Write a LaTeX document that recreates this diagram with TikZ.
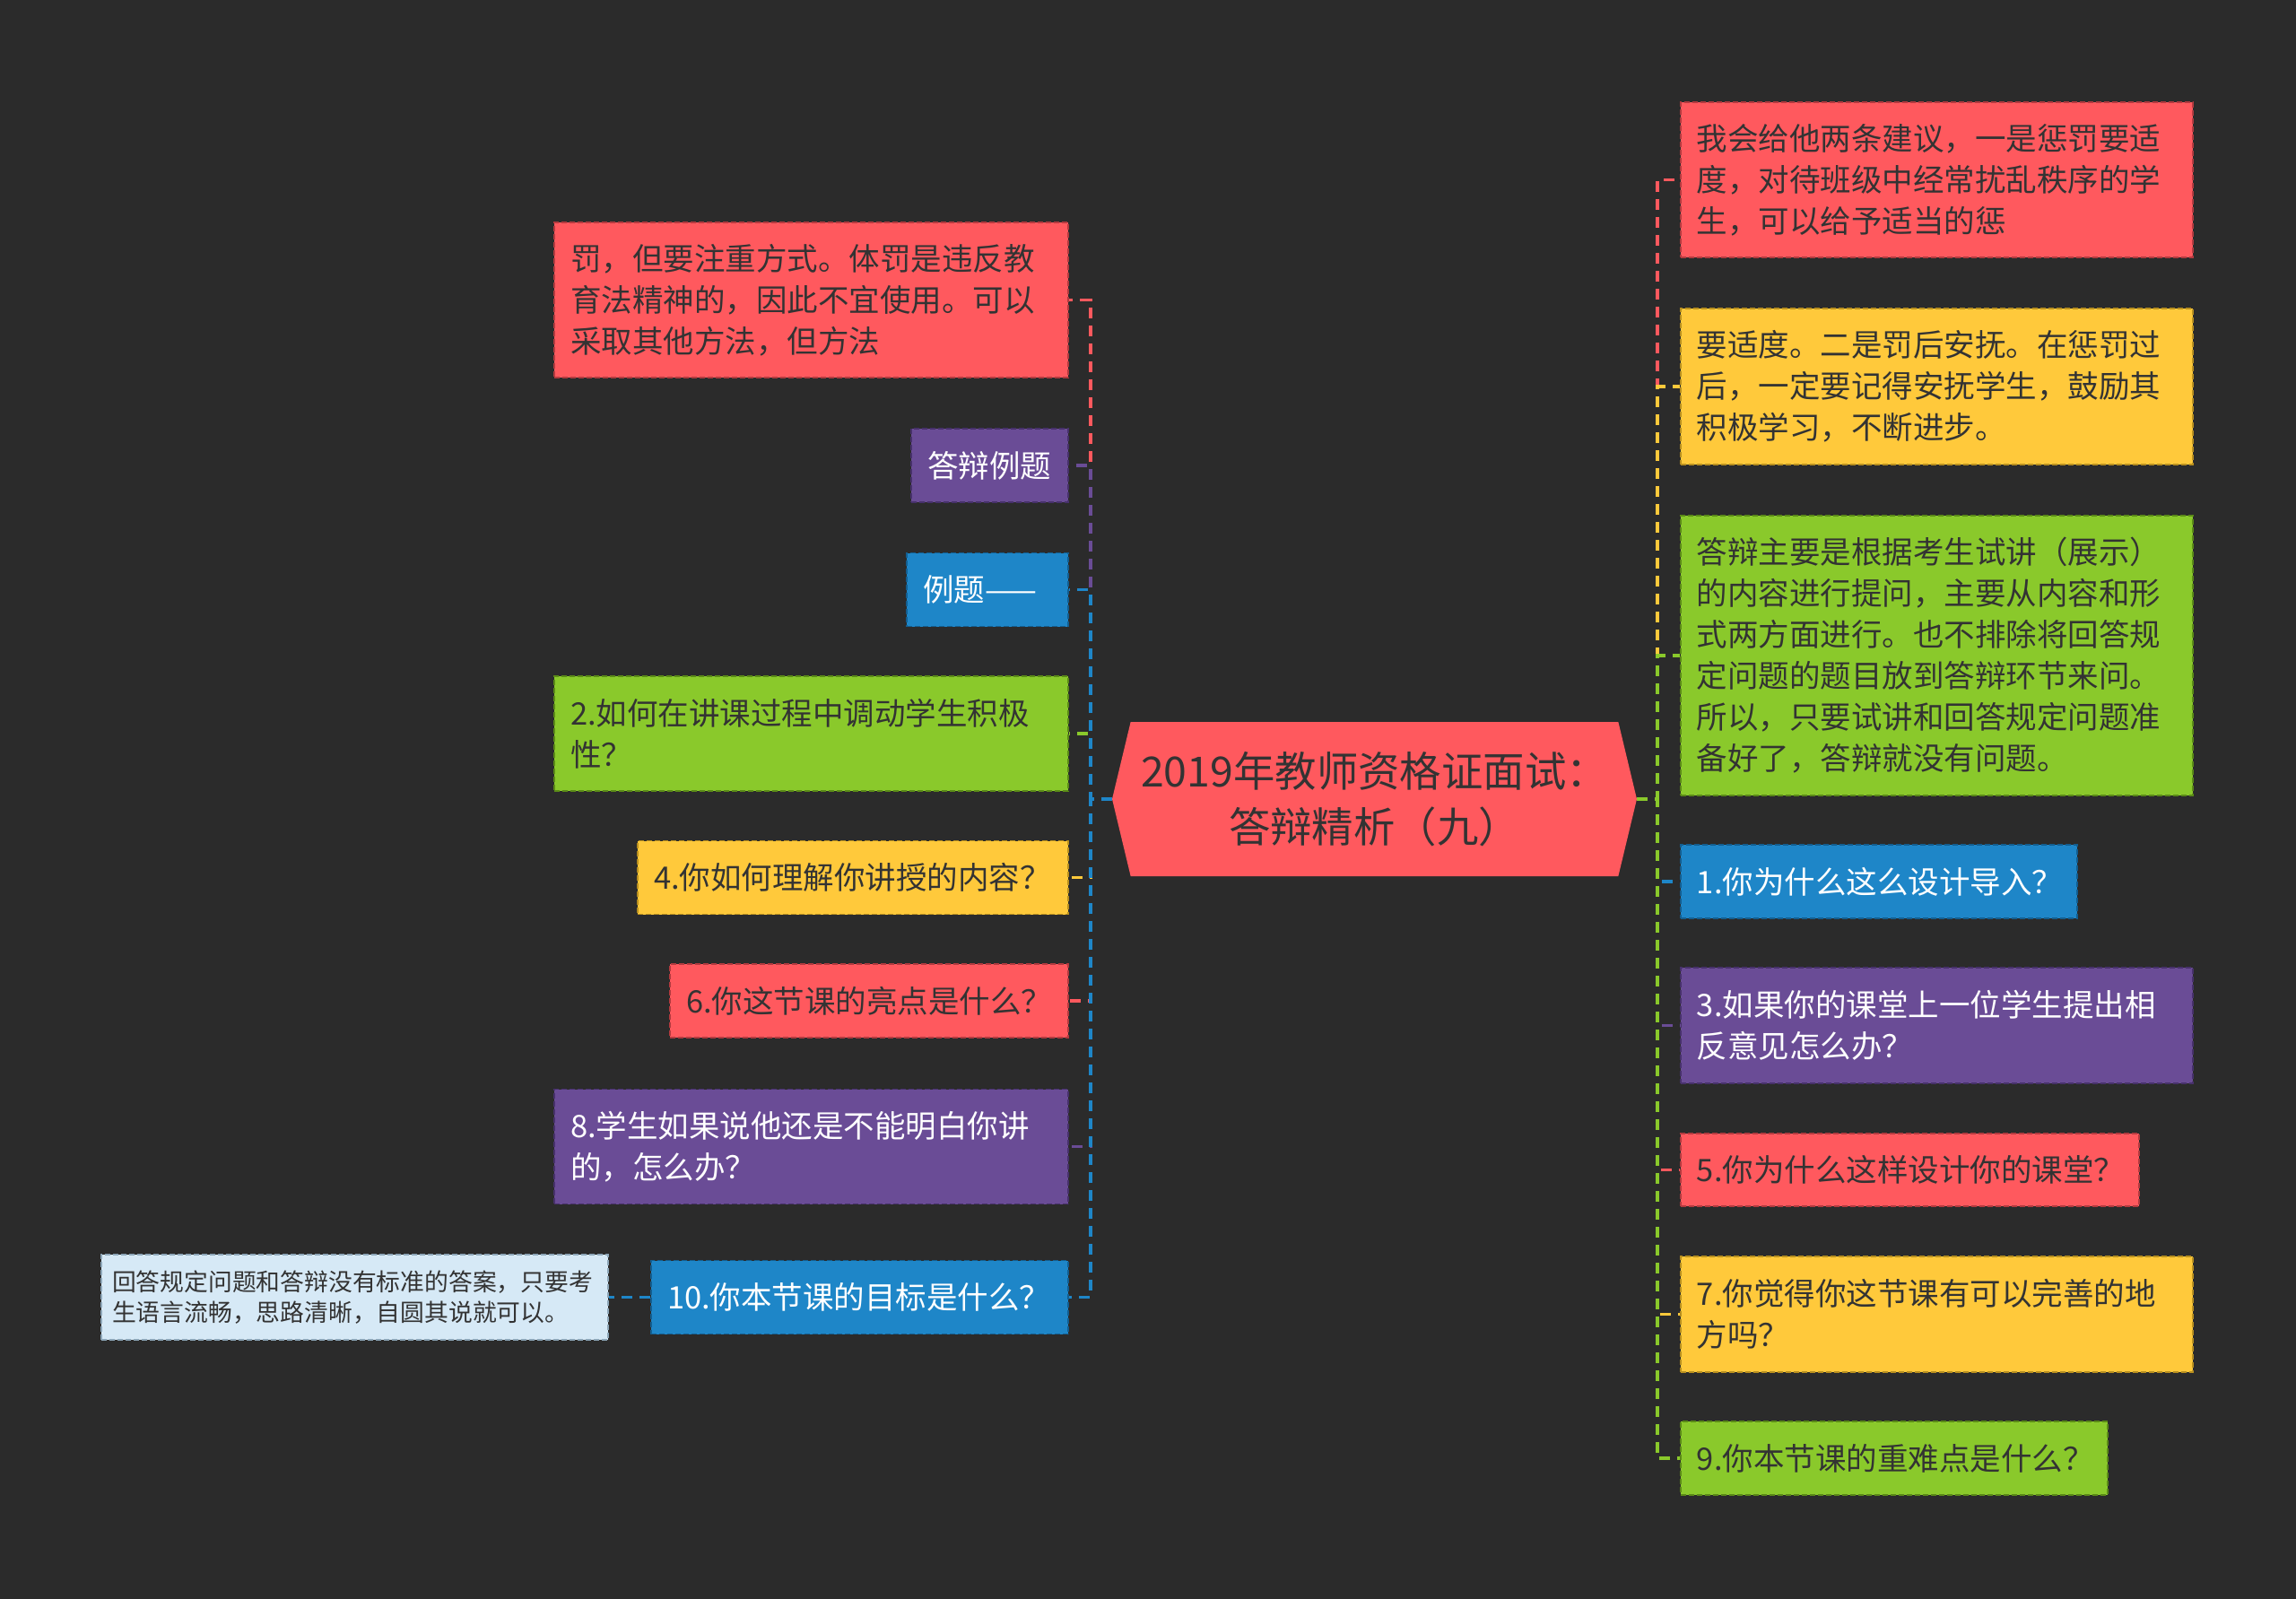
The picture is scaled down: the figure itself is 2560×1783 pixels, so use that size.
\documentclass[tikz,border=0pt]{standalone}
\usepackage{fontspec}
\setmainfont{Noto Sans CJK SC}
\usetikzlibrary{shapes.symbols}

\definecolor{bgc}{HTML}{2B2B2B}
\definecolor{mtext}{HTML}{333333}
\definecolor{mred}{HTML}{FF595E}
\definecolor{mredd}{HTML}{B33A3F}
\definecolor{myellow}{HTML}{FFC93B}
\definecolor{myellowd}{HTML}{B88F1F}
\definecolor{mgreen}{HTML}{8AC92B}
\definecolor{mgreend}{HTML}{5A8A17}
\definecolor{mblue}{HTML}{1E86C8}
\definecolor{mblued}{HTML}{135E90}
\definecolor{mpurple}{HTML}{6A4C96}
\definecolor{mpurpled}{HTML}{47316B}
\definecolor{mlight}{HTML}{D6E9F6}
\definecolor{mlightd}{HTML}{8DA6B8}

\begin{document}
\begin{tikzpicture}[x=0.5pt, y=-0.5pt,
  leaf/.style={rectangle, align=left, inner xsep=9pt, inner ysep=0pt,
    line width=0.9pt, dash pattern=on 3pt off 1.5pt,
    font=\fontsize{17.25}{23}\selectfont},
  redleaf/.style={leaf, fill=mred, draw=mredd, text=mtext},
  yellowleaf/.style={leaf, fill=myellow, draw=myellowd, text=mtext},
  greenleaf/.style={leaf, fill=mgreen, draw=mgreend, text=mtext},
  blueleaf/.style={leaf, fill=mblue, draw=mblued, text=white},
  purpleleaf/.style={leaf, fill=mpurple, draw=mpurpled, text=white},
  link/.style={line width=1.8pt, dash pattern=on 6pt off 4pt},
]

% Background
\fill[bgc] (0,0) rectangle (2560,1783);
\useasboundingbox (0,0) rectangle (2560,1783);

% Root
\node[signal, signal to=west and east, signal pointer angle=153,
  fill=mred, text=mtext, minimum width=292.5pt, minimum height=86pt,
  inner sep=0pt, align=center, font=\fontsize{23.2}{31}\selectfont]
  (root) at (1532.5,891) {2019年教师资格证面试：\\答辩精析（九）};

% Hubs
\coordinate (lhub) at (1216,891);
\coordinate (rhub) at (1848,891);

% Left leaves
\node[redleaf, anchor=east, text width=268.5pt, minimum height=86.5pt] (l1) at (1192,334.5)
  {罚，但要注重方式。体罚是违反教\\育法精神的，因此不宜使用。可以\\采取其他方法，但方法};
\node[purpleleaf, anchor=east, text width=69.5pt, minimum height=41pt] (l2) at (1192,519) {答辩例题};
\node[blueleaf, anchor=east, text width=72pt, minimum height=41pt] (l3) at (1192,657.5) {例题——};
\node[greenleaf, anchor=east, text width=268.5pt, minimum height=64pt] (l4) at (1192,818)
  {2.如何在讲课过程中调动学生积极\\性？};
\node[yellowleaf, anchor=east, text width=222pt, minimum height=41pt] (l5) at (1192,978.5) {4.你如何理解你讲授的内容？};
\node[redleaf, anchor=east, text width=204pt, minimum height=41pt] (l6) at (1192,1116) {6.你这节课的亮点是什么？};
\node[purpleleaf, anchor=east, text width=268.5pt, minimum height=64pt] (l7) at (1192,1278.5)
  {8.学生如果说他还是不能明白你讲\\的，怎么办？};
\node[blueleaf, anchor=east, text width=214.5pt, minimum height=41pt] (l8) at (1192,1446.5) {10.你本节课的目标是什么？};

% Note of 10.
\node[leaf, fill=mlight, draw=mlightd, text=mtext, anchor=east, inner xsep=6pt,
  text width=270.5pt, minimum height=47.5pt, font=\fontsize{13.4}{17}\selectfont]
  (l9) at (679,1446.5) {回答规定问题和答辩没有标准的答案，只要考\\生语言流畅，思路清晰，自圆其说就可以。};

% Right leaves
\node[redleaf, anchor=west, text width=267.5pt, minimum height=86.5pt] (r1) at (1873,200.5)
  {我会给他两条建议，一是惩罚要适\\度，对待班级中经常扰乱秩序的学\\生，可以给予适当的惩};
\node[yellowleaf, anchor=west, text width=267.5pt, minimum height=87pt] (r2) at (1873,431)
  {要适度。二是罚后安抚。在惩罚过\\后，一定要记得安抚学生，鼓励其\\积极学习，不断进步。};
\node[greenleaf, anchor=west, text width=267.5pt, minimum height=156pt] (r3) at (1873,731)
  {答辩主要是根据考生试讲（展示）\\的内容进行提问，主要从内容和形\\式两方面进行。也不排除将回答规\\定问题的题目放到答辩环节来问。\\所以，只要试讲和回答规定问题准\\备好了，答辩就没有问题。};
\node[blueleaf, anchor=west, text width=203pt, minimum height=41pt] (r4) at (1873,983) {1.你为什么这么设计导入？};
\node[purpleleaf, anchor=west, text width=267.5pt, minimum height=64.5pt] (r5) at (1873,1143.5)
  {3.如果你的课堂上一位学生提出相\\反意见怎么办？};
\node[redleaf, anchor=west, text width=237.5pt, minimum height=40.5pt] (r6) at (1873,1304.5) {5.你为什么这样设计你的课堂？};
\node[yellowleaf, anchor=west, text width=267.5pt, minimum height=64.5pt] (r7) at (1873,1465.5)
  {7.你觉得你这节课有可以完善的地\\方吗？};
\node[greenleaf, anchor=west, text width=220pt, minimum height=41pt] (r8) at (1873,1626) {9.你本节课的重难点是什么？};

% Left links
\draw[link, mgreen] (root.west) -- (lhub) |- (l4.east);
\draw[link, mred] (root.west) -- (lhub) |- (l1.east);
\draw[link, mpurple] (root.west) -- (lhub) |- (l2.east);
\draw[link, mblue] (root.west) -- (lhub) |- (l3.east);
\draw[link, myellow] (root.west) -- (lhub) |- (l5.east);
\draw[link, mred] (root.west) -- (lhub) |- (l6.east);
\draw[link, mpurple] (root.west) -- (lhub) |- (l7.east);
\draw[link, mblue] (root.west) -- (lhub) |- (l8.east);
\draw[link, mblue] (l8.west) -- (l9.east);

% Right links
\draw[link, mred] (root.east) -- (rhub) |- (r1.west);
\draw[link, myellow] (root.east) -- (rhub) |- (r2.west);
\draw[link, mgreen] (root.east) -- (rhub) |- (r3.west);
\draw[link, mblue] (root.east) -- (rhub) |- (r4.west);
\draw[link, mpurple] (root.east) -- (rhub) |- (r5.west);
\draw[link, mred] (root.east) -- (rhub) |- (r6.west);
\draw[link, myellow] (root.east) -- (rhub) |- (r7.west);
\draw[link, mgreen] (root.east) -- (rhub) |- (r8.west);

\end{tikzpicture}
\end{document}
